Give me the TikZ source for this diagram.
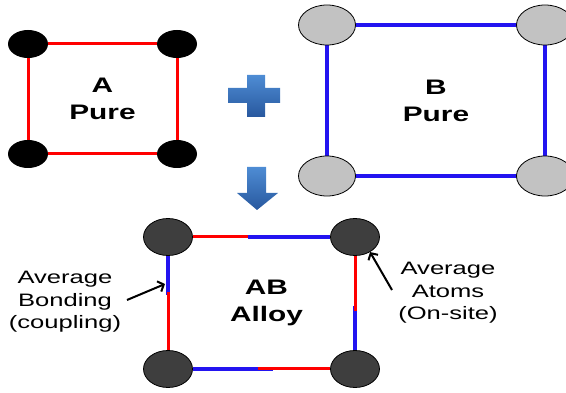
\documentclass[tikz,border=0pt]{standalone}
\usepackage{fontspec}
\setmainfont{Liberation Sans}
\usepackage{graphicx}
\usetikzlibrary{positioning}
\usetikzlibrary{calc}
\usetikzlibrary{shapes.geometric}
\usetikzlibrary{arrows.meta}

\definecolor{bondred}{RGB}{255,0,0}
\definecolor{bondblue}{RGB}{35,20,240}
\definecolor{atomgray}{RGB}{194,194,194}
\definecolor{atomdark}{RGB}{62,62,62}
\definecolor{signtop}{RGB}{78,140,212}
\definecolor{signbot}{RGB}{40,88,158}

\newcommand{\widetext}[1]{\scalebox{1.42}[1]{#1}}

\begin{document}
\begin{tikzpicture}[x=1pt, y=-1pt,
    atomA/.style={ellipse, fill=black, minimum width=40pt, minimum height=28pt, inner sep=0pt},
    atomB/.style={ellipse, draw=black, fill=atomgray, line width=0.8pt, minimum width=57pt, minimum height=40pt, inner sep=0pt},
    atomAB/.style={ellipse, draw=black, fill=atomdark, line width=0.8pt, minimum width=49pt, minimum height=37pt, inner sep=0pt},
    redbond/.style={draw=bondred, line width=3pt},
    bluebond/.style={draw=bondblue, line width=4.5pt},
    title/.style={align=center, font=\fontsize{21}{27}\selectfont\bfseries},
    note/.style={align=center, font=\fontsize{18}{22.5}\selectfont},
    pointer/.style={draw=black, line width=2pt, -{Straight Barb[length=5pt,width=11pt]}}]
    \useasboundingbox (0,0) rectangle (566,393);

    % pure A
    \node[atomA] (a1) at (28,44) {};
    \node[atomA] (a2) at (177,44) {};
    \node[atomA] (a3) at (28,154) {};
    \node[atomA] (a4) at (177,154) {};
    \draw[redbond] (a1) -- (a2);
    \draw[redbond] (a2) -- (a4);
    \draw[redbond] (a4) -- (a3);
    \draw[redbond] (a3) -- (a1);
    \node[title] (lblA) at ($(a1)!0.5!(a4)$) {\widetext{A}\\\widetext{Pure}};

    % pure B
    \draw[bluebond] (327,25) -- (545,25) -- (545,176) -- (327,176) -- cycle;
    \node[atomB] (b1) at (327,25) {};
    \node[atomB] (b2) at (545,25) {};
    \node[atomB] (b3) at (327,176) {};
    \node[atomB] (b4) at (545,176) {};
    \node[title] (lblB) at ($(b1)!0.5!(b4)$) {\widetext{B}\\\widetext{Pure}};

    % plus and arrow
    \shade[top color=signtop, bottom color=signbot] (247,75) -- (265,75) -- (265,88) -- (280,88) -- (280,103) -- (265,103)
        -- (265,117) -- (247,117) -- (247,103) -- (228,103) -- (228,88) -- (247,88) -- cycle;
    \shade[top color=signtop, bottom color=signbot] (247,167) -- (266,167) -- (266,193) -- (278,193) -- (257,210)
        -- (237,193) -- (247,193) -- cycle;

    % AB alloy
    \node[atomAB] (ab1) at (168,237) {};
    \node[atomAB] (ab2) at (355,237) {};
    \node[atomAB] (ab3) at (168,369) {};
    \node[atomAB] (ab4) at (355,369) {};
    \draw[redbond] (ab1) -- ($(ab1)!0.43!(ab2)$);
    \draw[bluebond] ($(ab1)!0.43!(ab2)$) -- (ab2);
    \draw[bluebond] (ab1) -- ($(ab1)!0.44!(ab3)$);
    \draw[redbond] ($(ab1)!0.42!(ab3)$) -- (ab3);
    \draw[bluebond] ($(ab2)!0.52!(ab4)$) -- (ab4);
    \draw[redbond] (ab2) -- ($(ab2)!0.56!(ab4)$);
    \draw[bluebond] (ab3) -- ($(ab3)!0.56!(ab4)$);
    \draw[redbond] ($(ab3)!0.48!(ab4)$) -- (ab4);
    \node[title, xshift=5pt] (lblAB) at ($(ab1)!0.5!(ab4)$) {\widetext{AB}\\\widetext{Alloy}};

    % notes
    \node[note] (bonding) at (65,302) {\widetext{Average}\\\widetext{Bonding}\\\widetext{(coupling)}};
    \node[note] (atoms) at (448,293) {\widetext{Average}\\\widetext{Atoms}\\\widetext{(On-site)}};
    \coordinate (bondtail) at (127,300);
    \coordinate (bondtip) at (165,284);
    \coordinate (atomtail) at (392,290);
    \draw[pointer] (bondtail) -- (bondtip);
    \draw[pointer] (atomtail) -- (ab2.-45);
\end{tikzpicture}
\end{document}
